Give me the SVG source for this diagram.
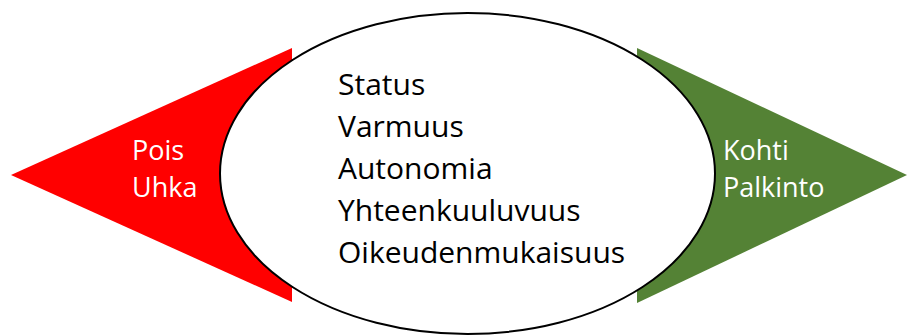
<svg xmlns="http://www.w3.org/2000/svg" width="908" height="336" viewBox="0 0 908 336">
  <style>
    .lbl { font-family: "Open Sans", "Liberation Sans", sans-serif; font-size: 27px; fill: #FFFFFF; }
    .item { font-family: "Open Sans", "Liberation Sans", sans-serif; font-size: 30px; fill: #000000; }
  </style>
  <rect width="908" height="336" fill="#FFFFFF"/>
  <g id="pois">
    <polygon points="11,175 292,48 292,302" fill="#FF0000"/>
    <text class="lbl" x="132" y="160">Pois</text>
    <text class="lbl" x="132" y="197">Uhka</text>
  </g>
  <g id="kohti">
    <polygon points="637,48 907,175 637,303" fill="#548235"/>
  </g>
  <g id="center">
    <ellipse cx="467.5" cy="173.5" rx="247.5" ry="160.5" fill="#FFFFFF" stroke="#000000" stroke-width="2"/>
    <text class="item" x="338" y="95">Status</text>
    <text class="item" x="338" y="137">Varmuus</text>
    <text class="item" x="338" y="179">Autonomia</text>
    <text class="item" x="338" y="221">Yhteenkuuluvuus</text>
    <text class="item" x="338" y="263">Oikeudenmukaisuus</text>
  </g>
  <g id="kohti-label">
    <text class="lbl" x="723" y="160">Kohti</text>
    <text class="lbl" x="723" y="197">Palkinto</text>
  </g>
</svg>
